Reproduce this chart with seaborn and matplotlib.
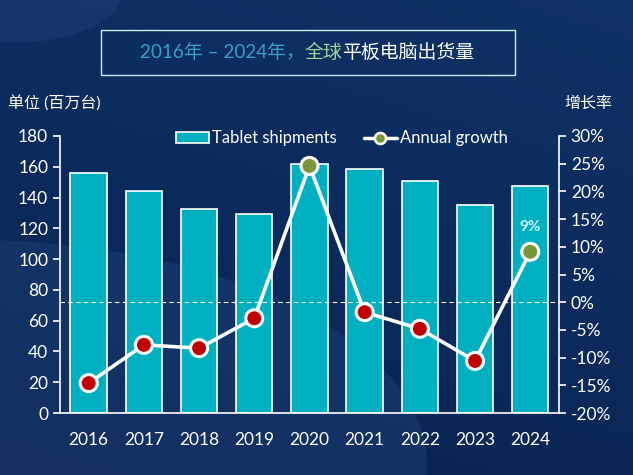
import numpy as np
import pandas as pd
import matplotlib
matplotlib.use("Agg")
import matplotlib.pyplot as plt
import seaborn as sns
from matplotlib.patches import Ellipse, Rectangle, Patch
from matplotlib.lines import Line2D
from matplotlib.ticker import FuncFormatter
from matplotlib.colors import LinearSegmentedColormap

years = ["2016", "2017", "2018", "2019", "2020", "2021", "2022", "2023", "2024"]
shipments = [156, 144, 132.5, 129, 162, 158.5, 151, 135, 147.5]
growth = [-14.6, -7.7, -8.3, -2.9, 24.6, -1.8, -4.8, -10.6, 9.1]
marker_kind = ["down", "down", "down", "down", "up", "down", "down", "down", "up"]
left_ticks = [0, 20, 40, 60, 80, 100, 120, 140, 160, 180]
right_ticks = [-20, -15, -10, -5, 0, 5, 10, 15, 20, 25, 30]

sns.set_theme(style="white")
FAM = ["Lato", "Noto Sans CJK SC", "DejaVu Sans"]
plt.rcParams["font.family"] = FAM

fig = plt.figure(figsize=(6.33, 4.75), dpi=100)
fig.patch.set_facecolor("#0b2756")

# background gradient
bg = fig.add_axes([0, 0, 1, 1], zorder=-10)
yy, xx = np.mgrid[0:1:200j, 0:1:200j]
grad = 0.55 + 0.25 * (1 - yy) + 0.1 * xx
cmap = LinearSegmentedColormap.from_list("bg", ["#061a3d", "#0b2a5b", "#10356b"])
bg.imshow(grad, cmap=cmap, extent=[0, 1, 0, 1], origin="upper", aspect="auto", vmin=0.4, vmax=1.0)
bg.add_patch(Ellipse((-0.05, 0.02), 1.45, 0.95, facecolor="#2a4f8c", alpha=0.3, edgecolor="none"))
bg.add_patch(Ellipse((0.02, 1.02), 0.35, 0.22, facecolor="#3a5f9a", alpha=0.2, edgecolor="none"))
bg.set_xlim(0, 1); bg.set_ylim(0, 1); bg.axis("off")

ax = fig.add_axes([0.0948, 0.1305, 0.7882, 0.5832])
ax.set_facecolor("none")
df = pd.DataFrame({"year": years, "ship": shipments, "growth": growth, "kind": marker_kind})

sns.barplot(data=df, x="year", y="ship", color="#00b0c0", saturation=1, width=0.66,
            edgecolor="white", linewidth=1.2, ax=ax)
ax.set_ylim(0, 180)
ax.set_xlim(-0.52, 8.52)
ax.set_yticks(left_ticks)
ax.set_xlabel(""); ax.set_ylabel("")
if ax.get_legend() is not None:
    ax.get_legend().remove()
for s in ["top", "right"]:
    ax.spines[s].set_visible(False)
ax.spines["left"].set_color("white")
ax.spines["bottom"].set_color("white")
ax.spines["left"].set_linewidth(1.2)
ax.spines["bottom"].set_linewidth(1.2)
ax.tick_params(axis="y", colors="white", labelsize=12.5, direction="out", length=5, width=1.2, left=True)
ax.tick_params(axis="x", colors="white", labelsize=12.5, length=0, pad=14)

ax2 = ax.twinx()
ax2.set_facecolor("none")
ax2.axhline(0, color="white", linestyle=(0, (4, 3)), linewidth=0.8, zorder=1)
xpos = np.arange(len(years))
sns.lineplot(x=xpos, y=df["growth"], color="white", linewidth=2.6, ax=ax2, zorder=3)
sns.scatterplot(x=xpos, y=df["growth"], hue=df["kind"],
                palette={"down": "#c00000", "up": "#7a9638"},
                s=150, edgecolor="white", linewidth=2.2, ax=ax2, zorder=4, legend=False)
ax2.set_ylim(-20, 30)
ax2.set_yticks(right_ticks)
ax2.yaxis.set_major_formatter(FuncFormatter(lambda v, p: f"{int(v)}%"))
ax2.set_ylabel("")
for s in ["top", "left", "bottom"]:
    ax2.spines[s].set_visible(False)
ax2.spines["right"].set_color("white")
ax2.spines["right"].set_linewidth(1.2)
ax2.tick_params(axis="y", colors="white", labelsize=12.5, direction="out", length=5, width=1.2, right=True)
ax2.annotate(f"{round(growth[-1])}%", xy=(8, growth[-1]), xytext=(0, 13), textcoords="offset points",
             ha="center", va="bottom", color="#c9eff6", fontsize=11, fontweight="bold")

# legend
handles = [Patch(facecolor="#00b0c0", edgecolor="white", linewidth=1.2, label="Tablet shipments"),
           Line2D([0], [0], color="white", linewidth=2.5, marker="o", markersize=8,
                  markerfacecolor="#7a9638", markeredgecolor="white", markeredgewidth=1.8,
                  label="Annual growth")]
leg = ax2.legend(handles=handles, loc="upper center", bbox_to_anchor=(0.565, 1.075), ncol=2,
                 frameon=False, fontsize=12, labelcolor="white", handlelength=2.0,
                 handleheight=0.6, handletextpad=0.2, columnspacing=1.6)

# axis titles
fig.text(8 / 633, 1 - 103 / 475, "单位 (百万台)", color="white", fontsize=11.5, va="center", ha="left", family=FAM)
fig.text(612 / 633, 1 - 103 / 475, "增长率", color="white", fontsize=11.5, va="center", ha="right", family=FAM)

# title box
fig.add_artist(Rectangle((101 / 633, 1 - 75 / 475), 414 / 633, 45 / 475, transform=fig.transFigure,
                         facecolor="none", edgecolor="#c8f0f0", linewidth=1.0))
parts = [("2016年 – 2024年，", "#3b9fc4"), ("全球", "#9fd49a"), ("平板电脑出货量", "white")]
tcy = 1 - 52 / 475
renderer = fig.canvas.get_renderer()
texts = []
for s, c in parts:
    t = fig.text(0, tcy, s, color=c, fontsize=13.6, va="center", ha="left", family=FAM)
    texts.append(t)
widths = [t.get_window_extent(renderer).width for t in texts]
total = sum(widths)
start = 307.0 - total / 2
for t, w in zip(texts, widths):
    t.set_x(start / 633)
    start += w

fig.savefig("out.png", dpi=100, facecolor=fig.get_facecolor())
